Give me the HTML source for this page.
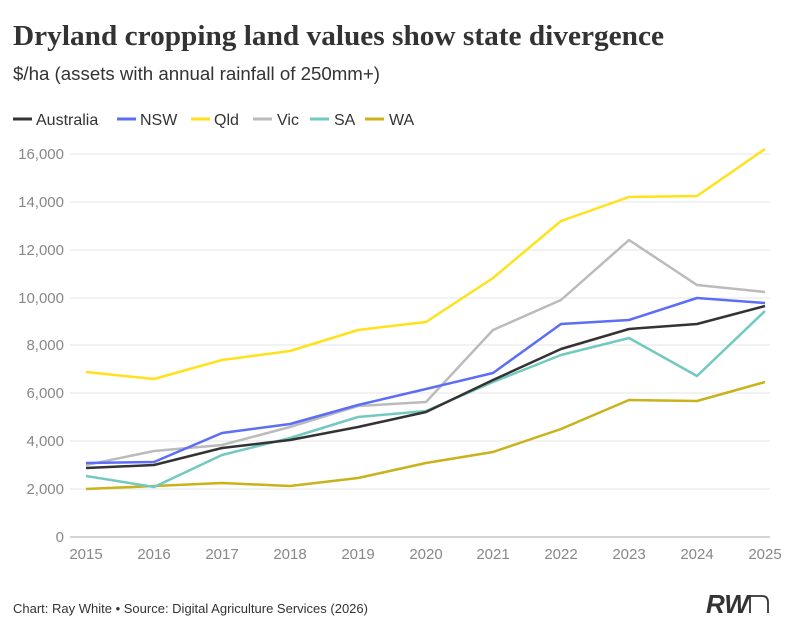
<!DOCTYPE html><html><head><style>body{margin:0;background:#fff;width:800px;height:630px;overflow:hidden;font-family:"Liberation Sans",sans-serif}</style></head><body>
<svg width="800" height="630" xmlns="http://www.w3.org/2000/svg" font-family="Liberation Sans, sans-serif">
<text x="13" y="45" font-family="Liberation Serif, serif" font-weight="bold" font-size="29" fill="#333" textLength="651" lengthAdjust="spacingAndGlyphs">Dryland cropping land values show state divergence</text>
<text x="13" y="80" font-size="18" fill="#333" textLength="367" lengthAdjust="spacingAndGlyphs">$/ha (assets with annual rainfall of 250mm+)</text>
<g font-size="16" fill="#333">
<line x1="13" y1="119" x2="32" y2="119" stroke="#333" stroke-width="3"/><text x="36" y="125">Australia</text>
<line x1="117" y1="119" x2="136" y2="119" stroke="#5b6ef5" stroke-width="3"/><text x="140" y="125">NSW</text>
<line x1="191" y1="119" x2="210" y2="119" stroke="#ffe21a" stroke-width="3"/><text x="214" y="125">Qld</text>
<line x1="253" y1="119" x2="272" y2="119" stroke="#bbb" stroke-width="3"/><text x="277" y="125">Vic</text>
<line x1="310" y1="119" x2="329" y2="119" stroke="#72c9c0" stroke-width="3"/><text x="334" y="125">SA</text>
<line x1="365" y1="119" x2="384" y2="119" stroke="#c9b21a" stroke-width="3"/><text x="389" y="125">WA</text>
</g>
<g stroke="#e4e4e4" stroke-width="1">
<line x1="70" x2="770" y1="154" y2="154"/><line x1="70" x2="770" y1="202" y2="202"/><line x1="70" x2="770" y1="250" y2="250"/><line x1="70" x2="770" y1="298" y2="298"/><line x1="70" x2="770" y1="345" y2="345"/><line x1="70" x2="770" y1="393" y2="393"/><line x1="70" x2="770" y1="441" y2="441"/><line x1="70" x2="770" y1="489" y2="489"/>
</g>
<line x1="70" x2="770" y1="537" y2="537" stroke="#aaa"/>
<g font-size="15" fill="#888" text-anchor="end">
<text x="64" y="159">16,000</text><text x="64" y="207">14,000</text><text x="64" y="255">12,000</text><text x="64" y="303">10,000</text><text x="64" y="350">8,000</text><text x="64" y="398">6,000</text><text x="64" y="446">4,000</text><text x="64" y="494">2,000</text><text x="64" y="542">0</text>
</g>
<g font-size="15" fill="#888" text-anchor="middle">
<text x="86" y="559">2015</text><text x="154" y="559">2016</text><text x="222" y="559">2017</text><text x="290" y="559">2018</text><text x="358" y="559">2019</text><text x="426" y="559">2020</text><text x="493" y="559">2021</text><text x="561" y="559">2022</text><text x="629" y="559">2023</text><text x="697" y="559">2024</text><text x="765" y="559">2025</text>
</g>
<g fill="none" stroke-width="2.5" stroke-linejoin="round">
<polyline stroke="#c9b21a" points="86,489 154,486 222,483 290,486 358,478 426,463 493,452 561,429 629,400 697,401 765,382"/>
<polyline stroke="#bbb" points="86,465 154,451 222,445 290,427 358,406 426,402 493,330 561,300 629,240 697,285 765,292"/>
<polyline stroke="#72c9c0" points="86,476 154,487 222,455 290,438 358,417 426,411 493,382 561,355 629,338 697,376 765,311"/>
<polyline stroke="#5b6ef5" points="86,463 154,462 222,433 290,424 358,405 426,389 493,373 561,324 629,320 697,298 765,303"/>
<polyline stroke="#ffe21a" points="86,372 154,379 222,360 290,351 358,330 426,322 493,278 561,221 629,197 697,196 765,149"/>
<polyline stroke="#333" points="86,468 154,465 222,448 290,440 358,427 426,412 493,380 561,349 629,329 697,324 765,306"/>
</g>
<text x="13" y="613" font-size="13" fill="#333">Chart: Ray White • Source: Digital Agriculture Services (2026)</text>
<text x="706" y="613" font-size="26" font-weight="bold" font-style="italic" fill="#333">RW</text>
<path d="M750 613 V596 H762 Q768 596 768 602 V613" fill="none" stroke="#333" stroke-width="1.8"/>
</svg>
</body></html>
